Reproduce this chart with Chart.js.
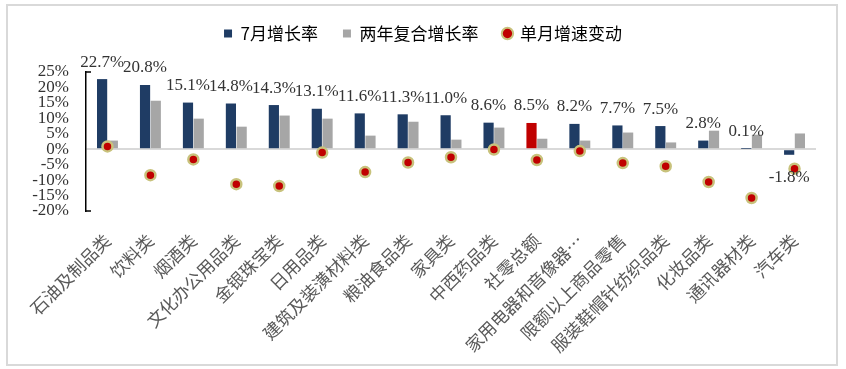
<!DOCTYPE html>
<html>
<head>
<meta charset="utf-8">
<script src="https://cdn.jsdelivr.net/npm/chart.js@4/dist/chart.umd.min.js"></script>
<style>
  html, body { margin: 0; padding: 0; background: #fff; }
  #wrap { position: relative; width: 846px; height: 369px; }
</style>
</head>
<body>
<div id="wrap"><canvas id="c"></canvas></div>
<script>
const categories = ["石油及制品类", "饮料类", "烟酒类", "文化办公用品类", "金银珠宝类", "日用品类", "建筑及装潢材料类", "粮油食品类", "家具类", "中西药品类", "社零总额", "家用电器和音像器…", "限额以上商品零售", "服装鞋帽针纺织品类", "化妆品类", "通讯器材类", "汽车类"];
const julyGrowth = [22.7, 20.8, 15.1, 14.8, 14.3, 13.1, 11.6, 11.3, 11.0, 8.6, 8.5, 8.2, 7.7, 7.5, 2.8, 0.1, -1.8];
const twoYearCagr = [2.8, 15.7, 9.9, 7.3, 10.9, 9.9, 4.4, 8.9, 3.1, 7.0, 3.4, 2.8, 5.4, 2.2, 6.0, 4.7, 5.1];
const monthChange = [0.9, -8.4, -3.3, -11.3, -11.9, -1.1, -7.4, -4.3, -2.6, -0.1, -3.5, -0.6, -4.5, -5.5, -10.6, -15.8, -6.3];
const seriesNames = ["7月增长率", "两年复合增长率", "单月增速变动"];
const yTicks = [-20, -15, -10, -5, 0, 5, 10, 15, 20, 25];

const NAVY = "#1f3c64";
const RED = "#c00000";
const GRAY = "#a6a6a6";
const SERIF = "'Liberation Serif', 'Times New Roman', serif";
const CJK = "'Noto Sans CJK SC', sans-serif";

const barColors = categories.map((c) => (c === "社零总额" ? RED : NAVY));

// frame, y-axis end caps, bar value labels
const decor = {
  id: "decor",
  beforeLayout(chart) {
    const lg = chart.legend;
    if (lg && !lg._patched) {
      const fit = lg.fit;
      lg.fit = function () { fit.call(this); this.height += 20; };
      lg._patched = true;
    }
  },
  afterLayout(chart) {
    // legend is centred on the whole frame, not on the padded area
    const lg = chart.legend;
    if (lg) { lg.left += 15; lg.right += 15; }
  },
  beforeDraw(chart) {
    const ctx = chart.ctx;
    ctx.save();
    ctx.strokeStyle = "#d9d9d9";
    ctx.lineWidth = 2;
    ctx.strokeRect(7, 5, 830, 360);
    ctx.restore();
  },
  afterDraw(chart) {
    const ctx = chart.ctx;
    const y = chart.scales.y;
    const x0 = chart.chartArea.left;
    ctx.save();
    ctx.strokeStyle = "#000";
    ctx.lineWidth = 1.5;
    [y.max, y.min].forEach((v) => {
      const py = y.getPixelForValue(v);
      ctx.beginPath();
      ctx.moveTo(x0, py);
      ctx.lineTo(x0 + 5, py);
      ctx.stroke();
    });
    ctx.fillStyle = "#333";
    ctx.font = "17px " + SERIF;
    ctx.textAlign = "center";
    ctx.textBaseline = "alphabetic";
    chart.getDatasetMeta(0).data.forEach((el, i) => {
      const v = julyGrowth[i];
      const ty = v >= 0 ? el.y - 12.5 : el.y + 27;
      ctx.fillText(v.toFixed(1) + "%", el.x, ty);
    });
    ctx.restore();
  },
};

new Chart(document.getElementById("c"), {
  data: {
    labels: categories,
    datasets: [
      {
        type: "bar",
        label: seriesNames[0],
        data: julyGrowth,
        backgroundColor: barColors,
        barPercentage: 0.95,
        categoryPercentage: 0.5,
        order: 2,
      },
      {
        type: "bar",
        label: seriesNames[1],
        data: twoYearCagr,
        backgroundColor: GRAY,
        barPercentage: 0.95,
        categoryPercentage: 0.5,
        order: 2,
      },
      {
        type: "line",
        label: seriesNames[2],
        data: monthChange,
        showLine: false,
        pointRadius: 5,
        pointBorderWidth: 2.5,
        pointBackgroundColor: RED,
        pointBorderColor: "#c8c27c",
        backgroundColor: RED,
        borderColor: "#c8c27c",
        order: 1,
      },
    ],
  },
  options: {
    responsive: true,
    maintainAspectRatio: false,
    animation: false,
    layout: { padding: { top: 0, right: 30, bottom: 0, left: 0 } },
    plugins: {
      legend: {
        display: true,
        position: "top",
        labels: {
          usePointStyle: true,
          boxWidth: 8,
          boxHeight: 8,
          padding: 25,
          color: "#404040",
          font: { family: CJK, size: 17 },
          generateLabels(chart) {
            return chart.data.datasets.map((ds, i) => ({
              text: ds.label,
              fillStyle: i === 0 ? NAVY : i === 1 ? GRAY : RED,
              strokeStyle: i === 2 ? "#c8c27c" : "transparent",
              lineWidth: i === 2 ? 2 : 0,
              pointStyle: i === 2 ? "circle" : "rect",
              datasetIndex: i,
              hidden: false,
            }));
          },
        },
      },
      tooltip: { enabled: false },
    },
    scales: {
      x: {
        grid: { display: false },
        border: { display: false },
        ticks: {
          autoSkip: false,
          maxRotation: 45,
          minRotation: 45,
          padding: 11,
          color: "#595959",
          font: { family: CJK, size: 17.5 },
        },
        afterFit(scale) { scale.height = 158; },
      },
      y: {
        min: -20,
        max: 25,
        afterBuildTicks(scale) { scale.ticks = yTicks.map((v) => ({ value: v })); },
        ticks: {
          autoSkip: false,
          padding: 17,
          color: "#333",
          font: { family: SERIF, size: 17 },
          callback: (v) => v + "%",
        },
        grid: {
          drawTicks: false,
          color: (c) => (c.tick && c.tick.value === 0 ? "#d9d9d9" : "transparent"),
          lineWidth: 2,
        },
        border: { display: true, color: "#000", width: 1.5 },
        afterFit(scale) { scale.width = 86; },
      },
    },
  },
  plugins: [decor],
});
</script>
</body>
</html>
